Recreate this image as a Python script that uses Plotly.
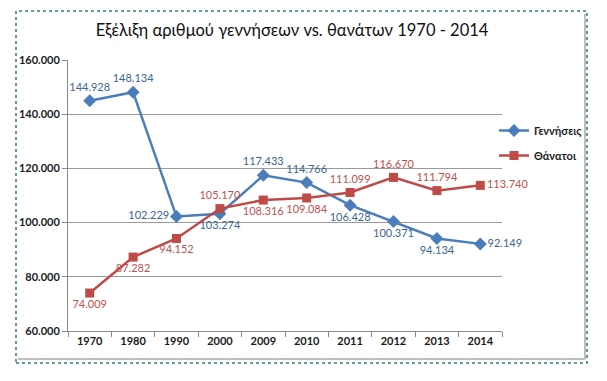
import plotly.graph_objects as go

years = ["1970", "1980", "1990", "2000", "2009", "2010", "2011", "2012", "2013", "2014"]
births = [144928, 148134, 102229, 103274, 117433, 114766, 106428, 100371, 94134, 92149]
deaths = [74009, 87282, 94152, 105170, 108316, 109084, 111099, 116670, 111794, 113740]
births_pos = ["top center", "top center", "middle left", "bottom center", "top center",
              "top center", "bottom center", "bottom center", "bottom center", "middle right"]
deaths_pos = ["bottom center", "bottom center", "bottom center", "top center", "bottom center",
              "bottom center", "top center", "top center", "top center", "middle right"]

BLUE = "#4A7EBB"
RED = "#BE4B48"
FONT = "Lato, sans-serif"

def fmt(v):
    return f"{v:,}".replace(",", ".")

fig = go.Figure()
fig.add_trace(go.Scatter(
    x=years, y=births, name="<b>Γεννήσεις</b>", mode="lines+markers+text",
    legendgroup="a",
    line=dict(color=BLUE, width=2.5),
    marker=dict(symbol="diamond", size=10, color=BLUE),
    text=[fmt(v) for v in births], textposition=births_pos, cliponaxis=False,
    textfont=dict(color="#3C6496", size=11, family=FONT),
))
fig.add_trace(go.Scatter(
    x=years, y=deaths, name="<b>Θάνατοι</b>", mode="lines+markers+text",
    legendgroup="b",
    line=dict(color=RED, width=2.5),
    marker=dict(symbol="square", size=9, color=RED),
    text=[fmt(v) for v in deaths], textposition=deaths_pos, cliponaxis=False,
    textfont=dict(color="#C0504D", size=11, family=FONT),
))

# page offset (browser body margin) compensation
OFF = 8
W, H = 607, 381
L, R, T, B = 68 - OFF, 502 - OFF, 60 - OFF, 331 - OFF
pw, ph = R - L, B - T

def px(x):
    return (x - OFF - L) / pw

def py(y):
    return (B - (y - OFF)) / ph

shapes = [
    dict(type="line", xref="paper", yref="paper", x0=px(585), x1=px(585), y0=py(14), y1=py(359),
         line=dict(color="#BFBFBF", width=2)),
    dict(type="line", xref="paper", yref="paper", x0=px(18), x1=px(585), y0=py(359), y1=py(359),
         line=dict(color="#BFBFBF", width=2)),
    dict(type="rect", xref="paper", yref="paper", x0=px(16), x1=px(587), y0=py(363), y1=py(11),
         line=dict(color="#2E7D7D", width=1.5, dash="dot")),
]

fig.update_layout(
    width=W, height=H,
    margin=dict(l=L, r=W - R, t=T, b=H - B, autoexpand=False),
    paper_bgcolor="white", plot_bgcolor="white",
    separators=",.",
    title=dict(text="Εξέλιξη αριθμού γεννήσεων vs. θανάτων 1970 - 2014",
               x=(292 - OFF) / W, xanchor="center", y=1 - (30 - OFF) / H, yanchor="middle",
               font=dict(family=FONT, size=16.5, color="#111111")),
    font=dict(family=FONT, color="#1a1a1a"),
    showlegend=True,
    legend=dict(x=px(494), y=py(116), xanchor="left", yanchor="top",
                font=dict(size=11, family=FONT, color="#1a1a1a"),
                itemwidth=30, tracegroupgap=6, bgcolor="rgba(0,0,0,0)"),
    shapes=shapes,
)
fig.update_xaxes(
    type="category", tickson="boundaries", ticks="outside", ticklen=5, tickcolor="#888888",
    showline=True, linecolor="#888888", linewidth=1, showgrid=False,
    tickfont=dict(size=11, family=FONT, color="#1a1a1a", weight="bold"),
    range=[-0.5, 9.5], automargin=False,
)
fig.update_yaxes(
    range=[60000, 160000], dtick=20000, tickformat=",d",
    ticks="outside", ticklen=5, tickcolor="#888888",
    showline=True, linecolor="#888888", linewidth=1,
    showgrid=True, gridcolor="#9A9A9A", gridwidth=1, zeroline=False,
    tickfont=dict(size=11, family=FONT, color="#1a1a1a", weight="bold"),
    automargin=False,
)

fig.write_html("out.html")
